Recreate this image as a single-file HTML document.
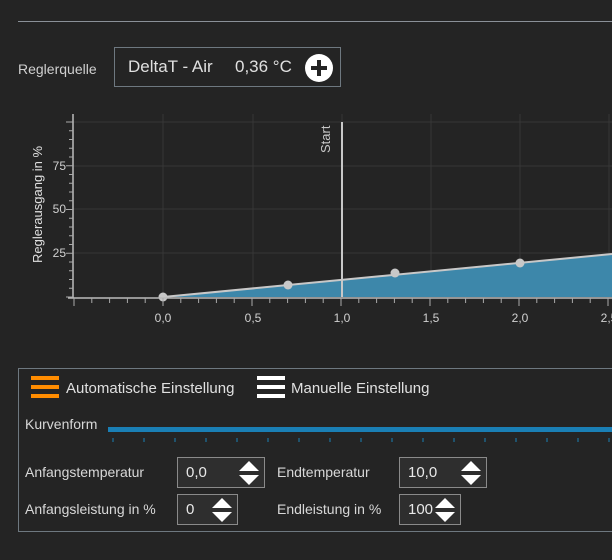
<!DOCTYPE html>
<html><head><meta charset="utf-8"><style>
body{margin:0;width:612px;height:560px;background:#242424;overflow:hidden;font-family:"Liberation Sans",sans-serif;color:#d8d8d8;position:relative}
.a{position:absolute;white-space:nowrap}
.inp{position:absolute;border:1px solid #8a8a8a;background:#2e2e2e;box-sizing:border-box;font-size:15px;color:#e8e8e8}
.inp span{position:absolute;left:8px;top:6px}
.sp{position:absolute;right:5px;top:3px}
</style></head><body>
<div class="a" style="left:18px;top:21px;width:594px;height:1px;background:#8a9098"></div>
<div class="a" style="left:18px;top:61px;font-size:14px;color:#d0d0d0">Reglerquelle</div>
<div class="a" style="left:114px;top:47px;width:227px;height:40px;border:1px solid #6e7880;box-sizing:border-box"></div>
<div class="a" style="left:128px;top:57px;font-size:17px;color:#e0e0e0">DeltaT - Air</div>
<div class="a" style="left:235px;top:57px;font-size:17px;color:#e0e0e0">0,36 °C</div>
<svg class="a" style="left:0;top:0" width="612" height="560">
<circle cx="319" cy="68" r="14" fill="#fff"/>
<rect x="311" y="66" width="16" height="4" fill="#242424"/><rect x="317" y="60" width="4" height="16" fill="#242424"/>
<g stroke="#363636" stroke-width="1">
<line x1="163" y1="114" x2="163" y2="297"/><line x1="253" y1="114" x2="253" y2="297"/><line x1="342" y1="114" x2="342" y2="297"/><line x1="431" y1="114" x2="431" y2="297"/><line x1="520" y1="114" x2="520" y2="297"/><line x1="609" y1="114" x2="609" y2="297"/>
<line x1="73" y1="122" x2="612" y2="122"/><line x1="73" y1="166" x2="612" y2="166"/><line x1="73" y1="209" x2="612" y2="209"/><line x1="73" y1="253" x2="612" y2="253"/>
</g>
<polygon points="163,297 612,254 612,297" fill="#3d87aa"/>
<line x1="163" y1="297" x2="612" y2="254" stroke="#c8c8c8" stroke-width="2"/>
<line x1="342" y1="122" x2="342" y2="297" stroke="#c8c8c8" stroke-width="2"/>
<text transform="translate(330,153) rotate(-90)" fill="#c8c8c8" font-size="13" font-family="Liberation Sans">Start</text>
<g fill="#c8c8c8"><circle cx="163" cy="297" r="4.5"/><circle cx="288" cy="285" r="4.5"/><circle cx="395" cy="273" r="4.5"/><circle cx="520" cy="263" r="4.5"/></g>
<g stroke="#bbb" stroke-width="1.5">
<line x1="73" y1="114" x2="73" y2="298"/><line x1="68" y1="298" x2="612" y2="298"/>
</g>
<g stroke="#aaa" stroke-width="1" id="yt"></g>
<text transform="translate(42,263) rotate(-90)" fill="#e0e0e0" font-size="13" font-family="Liberation Sans">Reglerausgang in %</text>
<g fill="#d0d0d0" font-size="12" font-family="Liberation Sans" text-anchor="end">
<text x="66" y="170">75</text><text x="66" y="213">50</text><text x="66" y="257">25</text></g>
<g fill="#d0d0d0" font-size="12" font-family="Liberation Sans" text-anchor="middle">
<text x="163" y="322">0,0</text><text x="253" y="322">0,5</text><text x="342" y="322">1,0</text><text x="431" y="322">1,5</text><text x="520" y="322">2,0</text><text x="609" y="322">2,5</text></g>
<g fill="#ff8c00"><rect x="31" y="376" width="28" height="4"/><rect x="31" y="385" width="28" height="4"/><rect x="31" y="394" width="28" height="4"/></g>
<g fill="#fff"><rect x="257" y="376" width="28" height="4"/><rect x="257" y="385" width="28" height="4"/><rect x="257" y="394" width="28" height="4"/></g>
<rect x="108" y="427" width="504" height="5" fill="#1a7fb5"/>
<g id="st" stroke="#1a7fb5" stroke-width="1"></g>
<rect x="18.5" y="368.5" width="600" height="163" fill="none" stroke="#6e7880"/>
</svg>
<script>
var s='';for(var i=0;i<=20;i++){var y=297-i*8.75;var big=i%5==0;s+='<line x1="'+(big?66:69)+'" y1="'+y+'" x2="73" y2="'+y+'"/>';}
for(var i=0;i<=30;i++){var x=74+i*17.8;var big=(i%5==0);s+='<line x1="'+x+'" y1="298" x2="'+x+'" y2="'+(big?306:303)+'"/>';}
document.getElementById('yt').innerHTML=s;
var t='';for(var i=0;i<17;i++){var x=113+i*31;t+='<line x1="'+x+'" y1="438" x2="'+x+'" y2="442"/>';}
document.getElementById('st').innerHTML=t;
</script>
<div class="a" style="left:66px;top:380px;font-size:15px;color:#e0e0e0">Automatische Einstellung</div>
<div class="a" style="left:291px;top:380px;font-size:15px;color:#e0e0e0">Manuelle Einstellung</div>
<div class="a" style="left:25px;top:416px;font-size:14px">Kurvenform</div>
<div class="a" style="left:25px;top:464px;font-size:14px">Anfangstemperatur</div>
<div class="a" style="left:277px;top:464px;font-size:14px">Endtemperatur</div>
<div class="a" style="left:25px;top:501px;font-size:14px">Anfangsleistung in %</div>
<div class="a" style="left:277px;top:501px;font-size:14px">Endleistung in %</div>
<div class="inp" style="left:177px;top:457px;width:88px;height:31px"><span>0,0</span><svg class="sp" width="20" height="25"><polygon points="10,0 20,10 0,10" fill="#fff"/><polygon points="0,14 20,14 10,24" fill="#fff"/></svg></div>
<div class="inp" style="left:399px;top:457px;width:88px;height:31px"><span>10,0</span><svg class="sp" width="20" height="25"><polygon points="10,0 20,10 0,10" fill="#fff"/><polygon points="0,14 20,14 10,24" fill="#fff"/></svg></div>
<div class="inp" style="left:177px;top:494px;width:61px;height:31px"><span>0</span><svg class="sp" width="20" height="25"><polygon points="10,0 20,10 0,10" fill="#fff"/><polygon points="0,14 20,14 10,24" fill="#fff"/></svg></div>
<div class="inp" style="left:399px;top:494px;width:62px;height:31px"><span>100</span><svg class="sp" width="20" height="25"><polygon points="10,0 20,10 0,10" fill="#fff"/><polygon points="0,14 20,14 10,24" fill="#fff"/></svg></div>
</body></html>
